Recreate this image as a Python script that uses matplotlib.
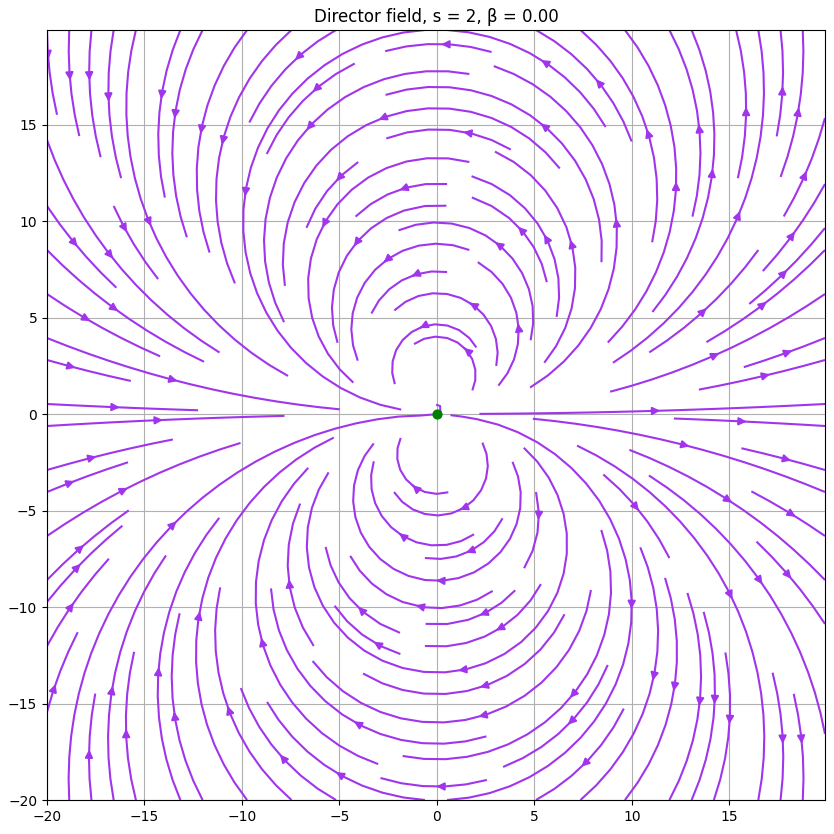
import numpy as np
import matplotlib.pyplot as plt

# defect parameters
s = 2
beta = 0.0

# sampling grid
x = np.arange(-20, 20, 0.1)
y = np.arange(-20, 20, 0.1)

def directorField(x, y, s, beta):
    X, Y = np.meshgrid(x, y)
    phi = np.arctan2(Y, X)
    theta = s * phi + beta
    return X, Y, np.cos(theta), np.sin(theta)

def main():
    X, Y, U, V = directorField(x, y, s, beta)
    fig = plt.figure(figsize=(8.34, 8.34), dpi=100)
    ax = fig.add_axes([47 / 834, 34 / 834, 778 / 834, 770 / 834])
    ax.streamplot(X, Y, U, V, color='#a035ec', linewidth=1.5, density=1.2,
                  arrowsize=1.1)
    ax.scatter([0], [0], color='green', s=40, zorder=3)
    ax.set_title('Director field, s = %d, \u03b2 = %.2f' % (s, beta))
    ax.grid(True)
    fig.savefig('out.png', dpi=100)

if __name__ == '__main__':
    main()
